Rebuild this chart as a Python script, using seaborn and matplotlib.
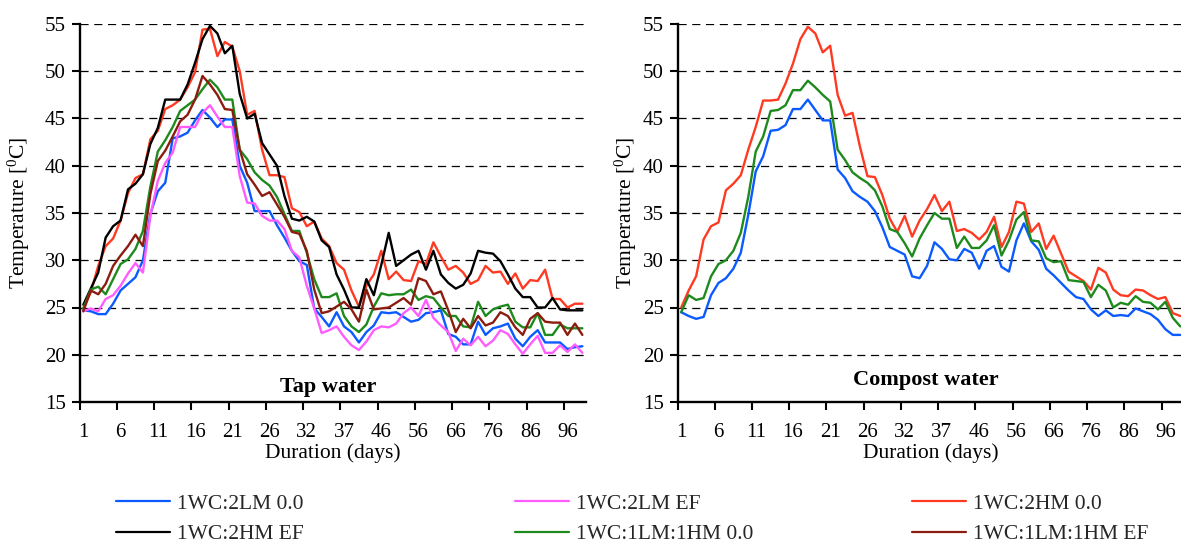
import numpy as np
import pandas as pd
import matplotlib
matplotlib.use("Agg")
import matplotlib.pyplot as plt
from matplotlib.lines import Line2D
import seaborn as sns

# Day labels shown under every fifth sampling point
day_labels = ["1", "6", "11", "16", "21", "26", "32", "37", "46", "56", "66", "76", "86", "96"]
n_points = 68

# Tap water trials (temperature, degC)
tap_2lm_0 = [24.7, 24.6, 24.3, 24.3, 25.4, 26.8, 27.5, 28.2, 30.0, 34.9,
             37.3, 38.2, 42.9, 43.1, 43.5, 44.8, 45.9, 45.1, 44.1, 44.9,
             44.9, 40.0, 38.2, 35.2, 35.2, 35.2, 33.7, 32.4, 31.0, 29.9,
             29.5, 24.9, 24.0, 23.0, 24.5, 23.0, 22.4, 21.3, 22.4, 23.1,
             24.5, 24.4, 24.5, 24.0, 23.5, 23.7, 24.4, 24.5, 24.7, 22.2,
             21.9, 21.1, 21.1, 23.5, 22.1, 22.8, 23.0, 23.3, 21.7, 20.9,
             21.9, 22.6, 21.3, 21.3, 21.3, 20.6, 20.8, 20.9]
tap_2lm_ef = [24.6, 24.9, 24.6, 25.9, 26.3, 27.3, 28.6, 29.7, 28.7, 34.7,
              38.4, 40.3, 41.4, 44.1, 44.1, 44.1, 45.6, 46.4, 45.2, 44.1,
              44.1, 38.9, 36.1, 36.0, 34.7, 34.2, 34.2, 33.3, 31.0, 30.3,
              27.3, 24.9, 22.3, 22.6, 23.0, 21.9, 21.0, 20.5, 21.4, 22.6,
              23.0, 22.9, 23.3, 24.4, 25.0, 24.1, 25.8, 23.9, 23.1, 22.4,
              20.4, 21.7, 21.0, 21.9, 20.9, 21.5, 22.6, 22.2, 21.1, 20.1,
              21.1, 22.0, 20.2, 20.2, 21.0, 20.3, 21.1, 20.2]
tap_2hm_0 = [24.9, 26.6, 29.4, 31.5, 32.3, 34.2, 37.1, 38.7, 39.1, 42.8,
             43.7, 46.0, 46.4, 47.0, 48.3, 49.9, 54.4, 54.5, 51.6, 53.1,
             52.6, 50.0, 45.4, 45.8, 41.7, 39.0, 39.0, 38.8, 35.5, 35.1,
             33.6, 34.1, 32.3, 31.5, 29.7, 29.0, 26.8, 25.1, 27.3, 28.5,
             31.0, 28.0, 28.8, 27.9, 27.8, 29.9, 29.6, 31.9, 30.4, 29.0,
             29.4, 28.7, 27.5, 27.9, 29.4, 28.7, 28.8, 27.5, 28.6, 27.0,
             27.9, 27.8, 29.0, 25.9, 25.9, 25.0, 25.4, 25.4]
tap_2hm_ef = [25.3, 27.0, 28.7, 32.4, 33.6, 34.2, 37.5, 38.1, 39.1, 42.3,
              44.0, 47.0, 47.0, 47.0, 48.6, 50.9, 53.4, 54.8, 54.0, 51.9,
              52.7, 47.6, 45.0, 45.5, 42.4, 41.2, 40.0, 36.8, 34.4, 34.2,
              34.6, 34.1, 32.1, 31.4, 28.5, 26.9, 25.0, 25.0, 28.0, 26.3,
              29.5, 32.9, 29.4, 30.0, 30.6, 31.0, 29.0, 31.0, 28.5, 27.6,
              27.0, 27.4, 28.6, 31.0, 30.8, 30.7, 29.9, 28.5, 27.0, 26.1,
              26.1, 25.0, 25.0, 26.0, 24.8, 24.7, 24.7, 24.7]
tap_1l1h_0 = [24.9, 26.9, 27.2, 26.4, 28.0, 29.6, 30.1, 31.2, 33.1, 37.8,
              41.5, 42.7, 44.1, 45.8, 46.4, 47.0, 48.1, 49.1, 48.3, 47.0,
              47.0, 41.7, 40.7, 39.3, 38.5, 37.9, 36.7, 34.9, 33.1, 33.1,
              30.8, 28.0, 26.1, 26.1, 26.5, 24.1, 23.0, 22.4, 23.2, 25.1,
              26.5, 26.3, 26.4, 26.4, 26.9, 25.8, 26.2, 26.0, 25.0, 24.1,
              24.1, 23.0, 22.9, 25.6, 24.1, 24.8, 25.1, 25.3, 23.5, 22.9,
              22.9, 24.4, 22.1, 22.1, 23.2, 22.8, 22.8, 22.8]
tap_1l1h_ef = [24.6, 26.8, 26.4, 27.5, 29.4, 30.5, 31.5, 32.7, 31.5, 37.0,
               40.5, 41.6, 43.1, 44.7, 45.4, 47.0, 49.5, 48.6, 47.5, 46.0,
               45.9, 41.7, 39.1, 38.0, 36.8, 37.2, 35.9, 34.6, 33.0, 32.8,
               31.0, 26.9, 24.4, 24.6, 25.1, 25.6, 24.8, 23.5, 26.9, 24.8,
               24.9, 25.0, 25.5, 26.0, 25.3, 28.1, 27.8, 26.4, 26.7, 24.7,
               22.4, 23.8, 22.8, 24.1, 23.1, 23.4, 24.5, 24.1, 22.9, 22.1,
               23.8, 24.4, 23.5, 23.4, 23.4, 22.1, 23.3, 22.1]

# Compost water trials (temperature, degC)
cmp_2lm_0 = [24.5, 24.1, 23.8, 24.0, 26.3, 27.6, 28.1, 29.1, 30.8, 34.8,
             39.4, 41.0, 43.7, 43.8, 44.3, 46.0, 46.0, 47.0, 45.9, 44.8,
             44.8, 39.6, 38.7, 37.3, 36.7, 36.2, 35.2, 33.5, 31.4, 31.0,
             30.6, 28.3, 28.1, 29.4, 31.9, 31.2, 30.1, 30.0, 31.2, 30.8,
             29.1, 31.0, 31.5, 29.3, 28.8, 32.1, 33.9, 32.0, 31.1, 29.1,
             28.4, 27.6, 26.8, 26.1, 25.9, 24.8, 24.1, 24.7, 24.1, 24.2,
             24.1, 24.9, 24.6, 24.3, 23.7, 22.7, 22.1, 22.1]
cmp_2hm_0 = [25.0, 26.8, 28.3, 32.2, 33.6, 34.0, 37.4, 38.1, 39.0, 41.7,
             44.1, 46.9, 46.9, 47.0, 48.7, 50.8, 53.4, 54.7, 54.0, 52.0,
             52.7, 47.5, 45.3, 45.6, 42.0, 38.9, 38.8, 36.9, 34.4, 33.0,
             34.7, 32.5, 34.2, 35.4, 36.9, 35.2, 36.2, 33.1, 33.3, 32.9,
             32.2, 33.0, 34.6, 31.4, 33.0, 36.2, 36.0, 33.0, 33.9, 31.2,
             32.6, 30.7, 28.8, 28.3, 27.8, 26.9, 29.2, 28.7, 26.9, 26.3,
             26.2, 26.9, 26.8, 26.3, 25.9, 26.1, 24.4, 24.1]
cmp_1l1h_0 = [24.5, 26.3, 25.8, 26.0, 28.3, 29.6, 30.0, 31.0, 32.9, 36.7,
              41.5, 43.1, 45.8, 45.9, 46.4, 48.0, 48.0, 49.0, 48.3, 47.5,
              46.8, 41.7, 40.6, 39.3, 38.7, 38.2, 37.4, 35.7, 33.3, 33.0,
              31.8, 30.4, 32.3, 33.7, 35.0, 34.4, 34.4, 31.3, 32.5, 31.3,
              31.3, 32.1, 33.7, 30.5, 32.1, 34.3, 35.1, 32.1, 32.0, 30.2,
              29.8, 29.9, 27.9, 27.8, 27.7, 26.1, 27.4, 26.8, 25.0, 25.5,
              25.3, 26.2, 25.6, 25.5, 24.8, 25.6, 23.9, 23.0]

treatments = ["1WC:2LM 0.0", "1WC:2LM EF", "1WC:2HM 0.0",
              "1WC:2HM EF", "1WC:1LM:1HM 0.0", "1WC:1LM:1HM EF"]
colors = {"1WC:2LM 0.0": "#0a5aff", "1WC:2LM EF": "#ff5cff",
          "1WC:2HM 0.0": "#ff3a22", "1WC:2HM EF": "#000000",
          "1WC:1LM:1HM 0.0": "#1e8a1e", "1WC:1LM:1HM EF": "#8c1c10"}

tap = dict(zip(treatments, [tap_2lm_0, tap_2lm_ef, tap_2hm_0,
                            tap_2hm_ef, tap_1l1h_0, tap_1l1h_ef]))
compost = {"1WC:2LM 0.0": cmp_2lm_0, "1WC:2HM 0.0": cmp_2hm_0,
           "1WC:1LM:1HM 0.0": cmp_1l1h_0}


def to_long(series):
    frames = []
    for name, vals in series.items():
        frames.append(pd.DataFrame({"step": np.arange(len(vals)),
                                    "temp": vals, "treatment": name}))
    return pd.concat(frames, ignore_index=True)


sns.set_theme(style="white")
plt.rcParams["font.family"] = ["Liberation Serif", "DejaVu Serif"]
plt.rcParams["mathtext.fontset"] = "custom"
plt.rcParams["mathtext.rm"] = "Liberation Serif"
plt.rcParams["mathtext.default"] = "regular"

fig = plt.figure(figsize=(11.81, 5.47), dpi=100)
ax_w, ax_h, ax_b = 506.5 / 1181, 378 / 547, 145 / 547
ax_tap = fig.add_axes([79.6 / 1181, ax_b, ax_w, ax_h])
ax_cmp = fig.add_axes([677.5 / 1181, ax_b, ax_w, ax_h])

FS = 15
for ax, series, title, ty, ylab_x in [(ax_tap, tap, "Tap water", 0.040, -0.094),
                                      (ax_cmp, compost, "Compost water", 0.058, -0.076)]:
    df = to_long(series)
    order = [t for t in treatments if t in series]
    sns.lineplot(data=df, x="step", y="temp", hue="treatment", hue_order=order,
                 palette=colors, estimator=None, sort=False, legend=False,
                 linewidth=1.7, ax=ax)
    ax.set_xlim(-0.5, n_points - 0.5)
    ax.set_ylim(15, 55)
    ax.set_yticks(np.arange(15, 56, 5))
    ax.set_xticks(np.arange(-0.5, n_points - 1, 5))
    ax.set_xticks(np.arange(0, n_points - 1, 5), minor=True)
    ax.set_xticklabels(day_labels, minor=True)
    ax.tick_params(axis="x", which="major", length=6, width=1.5, color="black",
                   direction="out", bottom=True, labelbottom=False)
    ax.tick_params(axis="x", which="minor", length=0, labelsize=FS, pad=15,
                   labelcolor="black")
    ax.tick_params(axis="y", length=6, width=1.5, color="black", direction="out",
                   left=True, labelsize=FS, pad=4, labelcolor="black")
    ax.yaxis.grid(True, color="black", linestyle=(0, (6.5, 4.5)), linewidth=0.9)
    ax.xaxis.grid(False)
    for side in ["top", "right"]:
        ax.spines[side].set_visible(False)
    for side in ["left", "bottom"]:
        ax.spines[side].set_color("black")
        ax.spines[side].set_linewidth(1.7)
    ax.set_xlabel("Duration (days)", fontsize=FS + 0.5, color="black", labelpad=1)
    ax.set_ylabel("Temperature [$^{0}$C]", fontsize=FS + 0.5, color="black")
    ax.yaxis.set_label_coords(ylab_x, 0.5)
    ax.text(0.49, ty, title, transform=ax.transAxes, ha="center", va="center",
            fontsize=FS + 1, fontweight="bold", color="black")

# Legend: three columns of two entries
columns = [(116, ["1WC:2LM 0.0", "1WC:2HM EF"]),
           (515, ["1WC:2LM EF", "1WC:1LM:1HM 0.0"]),
           (912, ["1WC:2HM 0.0", "1WC:1LM:1HM EF"])]
for x0, names in columns:
    handles = [Line2D([], [], color=colors[n], linewidth=1.6) for n in names]
    fig.legend(handles, names, loc="center left",
               bbox_to_anchor=(x0 / 1181, (547 - 519) / 547),
               frameon=False, fontsize=FS + 0.5, handlelength=2.5,
               handletextpad=0.35, labelspacing=0.48, borderpad=0,
               borderaxespad=0)

fig.savefig("out.png", dpi=100)
